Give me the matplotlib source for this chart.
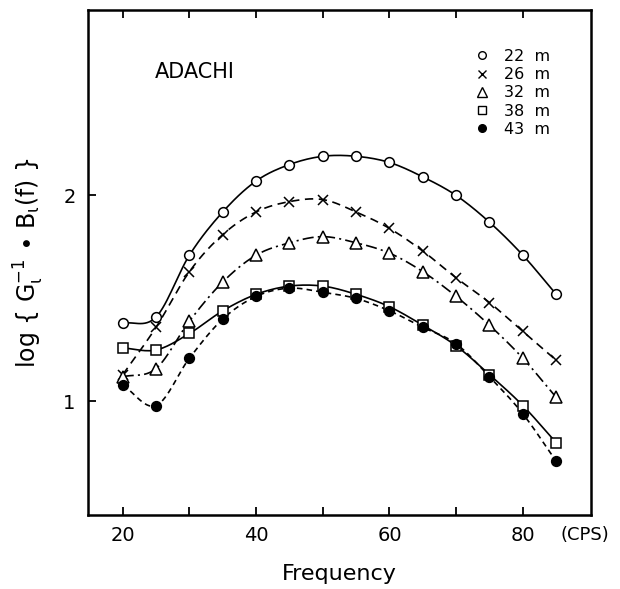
import numpy as np
import matplotlib
matplotlib.use("Agg")
import matplotlib.pyplot as plt
from matplotlib.lines import Line2D

plt.rcParams['font.family'] = ['DejaVu Sans']
plt.rcParams['mathtext.default'] = 'regular'
plt.rcParams['lines.scale_dashes'] = False

freq = [20, 25, 30, 35, 40, 45, 50, 55, 60, 65, 70, 75, 80, 85]
depth_labels = ['22  m', '26  m', '32  m', '38  m', '43  m']
v22 = [1.38, 1.41, 1.71, 1.92, 2.07, 2.15, 2.19, 2.19, 2.16, 2.09, 2.00, 1.87, 1.71, 1.52]
v26 = [1.13, 1.36, 1.63, 1.81, 1.92, 1.97, 1.98, 1.92, 1.84, 1.73, 1.60, 1.48, 1.34, 1.20]
v32 = [1.12, 1.16, 1.39, 1.58, 1.71, 1.77, 1.80, 1.77, 1.72, 1.63, 1.51, 1.37, 1.21, 1.02]
v38 = [1.26, 1.25, 1.33, 1.44, 1.52, 1.56, 1.56, 1.52, 1.46, 1.37, 1.27, 1.13, 0.98, 0.80]
v43 = [1.08, 0.98, 1.21, 1.40, 1.51, 1.55, 1.53, 1.50, 1.44, 1.36, 1.28, 1.12, 0.94, 0.71]
series = [v22, v26, v32, v38, v43]
x_major = [20, 40, 60, 80]
x_minor = [30, 50, 70]
y_ticks = [1, 2]


def catmull_rom(x, y, n=16):
    P = np.column_stack([np.asarray(x, float), np.asarray(y, float)])
    P = np.vstack([2 * P[0] - P[1], P, 2 * P[-1] - P[-2]])
    out = []
    t = np.linspace(0, 1, n)[:, None]
    for i in range(1, len(P) - 2):
        p0, p1, p2, p3 = P[i - 1], P[i], P[i + 1], P[i + 2]
        seg = 0.5 * (2 * p1 + (-p0 + p2) * t + (2 * p0 - 5 * p1 + 4 * p2 - p3) * t ** 2
                     + (-p0 + 3 * p1 - 3 * p2 + p3) * t ** 3)
        out.append(seg if i == 1 else seg[1:])
    S = np.vstack(out)
    return S[:, 0], S[:, 1]


styles = [
    dict(ls='-', marker='o', mfc='white', ms=7),
    dict(ls=(0, (6, 4)), marker='x', mfc='black', ms=7),
    dict(ls=(0, (8, 3, 1.5, 3)), marker='^', mfc='white', ms=8),
    dict(ls='-', marker='s', mfc='white', ms=7),
    dict(ls=(0, (4, 3)), marker='o', mfc='black', ms=7),
]

fig = plt.figure(figsize=(6.2, 5.89), dpi=100)
ax = fig.add_axes([0.142, 0.126, 0.811, 0.857])

handles = []
for vals, st, lab in zip(series, styles, depth_labels):
    sx, sy = catmull_rom(freq, vals)
    ax.plot(sx, sy, color='black', lw=1.2, linestyle=st['ls'], zorder=2)
    ax.plot(freq, vals, linestyle='none', marker=st['marker'], mfc=st['mfc'],
            mec='black', mew=1.1, ms=st['ms'], zorder=3)
    handles.append(Line2D([], [], linestyle='none', marker=st['marker'], mfc=st['mfc'],
                          mec='black', mew=1.0, ms=st['ms'] - 1.5, label=lab))

ax.set_xlim(14.8, 90.2)
ax.set_ylim(0.45, 2.90)
ax.set_xticks(x_major)
ax.set_xticks(x_minor, minor=True)
ax.set_yticks(y_ticks)
ax.tick_params(axis='both', which='both', direction='in', top=True, length=6, width=1.3,
               labelsize=14)
ax.tick_params(axis='x', pad=8)
ax.tick_params(axis='y', pad=9)
for sp in ax.spines.values():
    sp.set_linewidth(1.8)

ax.annotate('(CPS)', xy=(1.0, 0), xycoords='axes fraction', xytext=(-4, -8),
            textcoords='offset points', ha='center', va='top', fontsize=13)

ax.text(0.133, 0.877, 'ADACHI', transform=ax.transAxes, fontsize=15, ha='left', va='center')

ax.legend(handles=handles, loc='upper left', bbox_to_anchor=(0.745, 0.945), frameon=False,
          fontsize=11.5, handlelength=1.0, handletextpad=0.9, labelspacing=0.2,
          borderpad=0.2)

ax.set_xlabel('Frequency', fontsize=16, labelpad=14)
ax.set_ylabel(r'log { G$_{\iota}^{-1}$ $\bullet$ B$_{\iota}$(f) }', fontsize=17, labelpad=12)

fig.savefig('out.png', dpi=100)
